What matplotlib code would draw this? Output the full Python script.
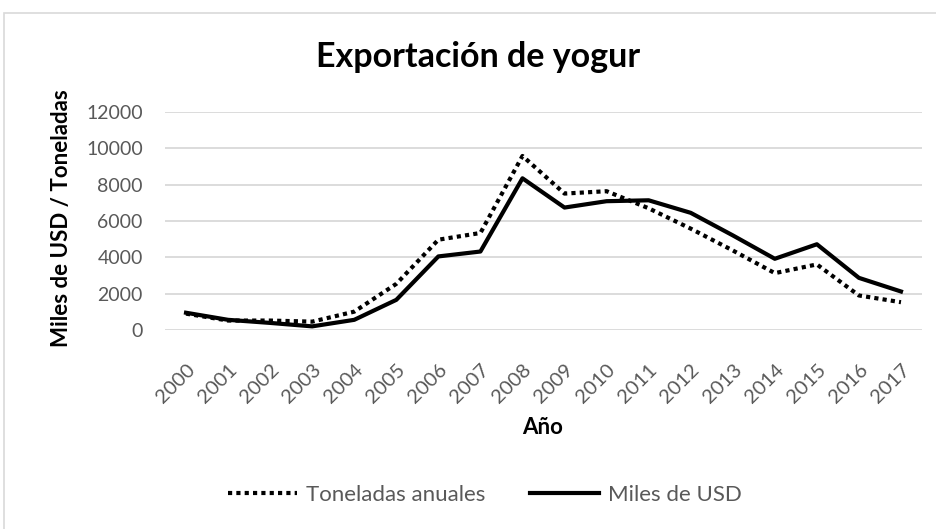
import matplotlib.pyplot as plt
from matplotlib.patches import Rectangle

# Data
years = [str(y) for y in range(2000, 2018)]
toneladas = [900, 520, 520, 460, 1010, 2540, 4970, 5340, 9580, 7510,
             7640, 6700, 5580, 4380, 3130, 3610, 1900, 1530]
miles_usd = [950, 560, 390, 200, 560, 1660, 4050, 4320, 8350, 6740,
             7090, 7140, 6450, 5210, 3920, 4720, 2870, 2120]
y_ticks = [0, 2000, 4000, 6000, 8000, 10000, 12000]

# Style
FONT = ["Lato", "DejaVu Sans"]
TICK_COLOUR = "#595959"
GRID_COLOUR = "#d9d9d9"
W, H = 937, 529
plt.rcParams["font.family"] = FONT

fig = plt.figure(figsize=(W / 100, H / 100), dpi=100)
ax = fig.add_axes([165 / W, 1 - 330 / H, 757 / W, 218 / H])

# Outer chart border
fig.patches.append(Rectangle((4 / W, -0.1), 1.1, 1 - 13 / H + 0.1,
                             transform=fig.transFigure, fill=False,
                             edgecolor=GRID_COLOUR, linewidth=1.2))

x = list(range(len(years)))
ax.plot(x, toneladas, color="black", linewidth=3, linestyle=(0, (1, 1)),
        dash_capstyle="butt", label="Toneladas anuales")
ax.plot(x, miles_usd, color="black", linewidth=3, label="Miles de USD")

ax.set_xlim(-0.5, len(years) - 0.5)
ax.set_ylim(0, 12000)
ax.set_yticks(y_ticks)
ax.set_yticklabels([str(v) for v in y_ticks])
ax.set_xticks(x)
ax.set_xticklabels(years, rotation=45, ha="right", rotation_mode="anchor")
ax.tick_params(axis="both", length=0, labelsize=14, colors=TICK_COLOUR)
ax.tick_params(axis="x", pad=22, labelsize=14.5)
ax.tick_params(axis="y", pad=16)

ax.grid(axis="y", color=GRID_COLOUR, linewidth=1.3)
ax.set_axisbelow(True)
for s in ax.spines.values():
    s.set_visible(False)

# Titles
fig.text(478 / W, 1 - 57 / H, "Exportación de yogur", ha="center", va="center",
         fontsize=24.5, fontweight="bold")
fig.text(62 / W, 1 - 218 / H, "Miles de USD / Toneladas", ha="center", va="center",
         rotation=90, fontsize=16, fontweight="bold")
fig.text(543 / W, 1 - 428 / H, "Año", ha="center", va="center",
         fontsize=16, fontweight="bold")

fig.legend(loc="center", bbox_to_anchor=(485 / W, 1 - 495 / H), ncol=2,
           frameon=False, fontsize=16, handlelength=3.1, columnspacing=2.0,
           handletextpad=0.4, labelcolor=TICK_COLOUR)

fig.savefig("out.png", dpi=100)
